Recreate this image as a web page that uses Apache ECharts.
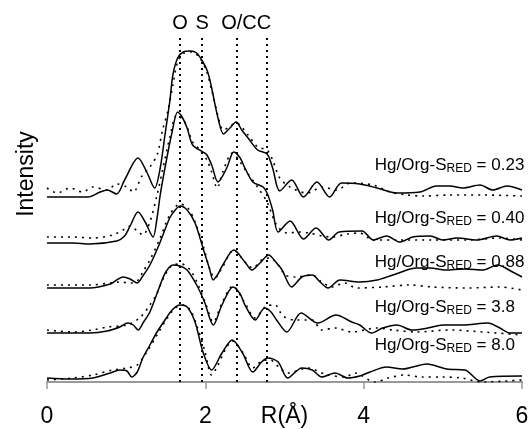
<!DOCTYPE html>
<html lang="en">
<head>
<meta charset="UTF-8">
<title>FT EXAFS</title>
<script src="https://cdn.jsdelivr.net/npm/echarts@6/dist/echarts.min.js"></script>
<style>
  html, body { margin: 0; padding: 0; background: #fff; }
  #chart { width: 531px; height: 429px; }
</style>
</head>
<body>
<div id="chart"></div>
<script>
// spectra, top to bottom; each pair is [R (Å), height above its own baseline]
var ratios = ['0.23', '0.40', '0.88', '3.8', '8.0'];
var baselines = [185, 139, 94, 49, 3];

var solid023 = [[0,0],[0.52,0],[0.67,5],[0.76,7],[0.88,3],[0.98,17],[1.15,39],[1.26,25],[1.36,9],[1.43,29],[1.49,62],[1.55,95],[1.59,122],[1.65,139],[1.72,145],[1.81,146],[1.89,144],[1.97,135],[2.03,125],[2.08,109],[2.16,79],[2.23,63],[2.31,69],[2.39,75],[2.46,67],[2.54,59],[2.66,47],[2.78,43],[2.85,29],[2.94,6],[3.09,17],[3.24,0],[3.41,15],[3.57,0],[3.72,14],[3.95,13],[4.17,9],[4.42,4],[4.71,5],[4.92,11],[5.09,11],[5.25,9],[5.47,12],[5.63,7],[5.81,11],[6,7]];
var dotted023 = [[0,9],[0.13,4],[0.29,9],[0.45,5],[0.58,10],[0.76,7],[0.88,13],[1.01,10],[1.09,5],[1.20,21],[1.30,30],[1.39,42],[1.46,67],[1.53,87],[1.59,112],[1.65,135],[1.73,144],[1.83,145],[1.92,140],[2.01,127],[2.08,107],[2.16,81],[2.23,67],[2.39,74],[2.54,62],[2.66,50],[2.78,47],[2.85,37],[2.94,19],[3.07,10],[3.28,4],[3.48,10],[3.66,7],[3.83,14],[4.12,12],[4.33,5],[4.55,2],[4.75,1],[5.09,2],[5.51,2],[6,1]];

var solid040 = [[0,0],[0.33,0],[0.54,-1],[0.88,2],[0.98,7],[1.05,17],[1.15,31],[1.24,21],[1.34,6],[1.39,25],[1.43,48],[1.49,75],[1.58,111],[1.65,131],[1.70,127],[1.77,115],[1.84,98],[1.97,91],[2.02,88],[2.08,78],[2.16,61],[2.27,75],[2.36,91],[2.44,85],[2.50,75],[2.60,61],[2.73,56],[2.79,48],[2.85,33],[2.92,11],[3.07,22],[3.24,4],[3.40,15],[3.56,3],[3.69,11],[3.98,12],[4.12,3],[4.29,7],[4.46,1],[4.62,6],[4.84,7],[5.00,3],[5.18,5],[5.43,3],[5.68,7],[5.85,3],[6,5]];
var dotted040 = [[0,6],[0.33,6],[0.58,5],[0.83,8],[0.96,13],[1.05,17],[1.14,12],[1.21,8],[1.30,21],[1.39,48],[1.46,73],[1.55,105],[1.64,128],[1.74,121],[1.84,101],[1.93,93],[2.02,83],[2.08,71],[2.15,55],[2.22,71],[2.34,90],[2.44,81],[2.53,70],[2.65,57],[2.78,41],[2.90,18],[3.03,10],[3.19,11],[3.32,10],[3.47,7],[3.61,6],[3.79,9],[3.95,10],[4.12,3],[4.46,3],[4.87,3],[5.30,3],[5.72,5],[6,3]];

var solid088 = [[0,0],[0.54,0],[0.80,4],[0.88,8],[0.96,11],[1.05,9],[1.14,5],[1.21,12],[1.30,23],[1.43,46],[1.55,70],[1.62,78],[1.68,82],[1.77,78],[1.87,65],[1.97,40],[2.05,20],[2.10,8],[2.16,14],[2.22,23],[2.36,38],[2.50,26],[2.59,18],[2.69,25],[2.80,33],[2.89,26],[2.97,18],[3.09,1],[3.22,11],[3.35,13],[3.45,6],[3.55,0],[3.70,8],[3.95,6],[4.17,8],[4.37,13],[4.67,20],[4.84,20],[5.03,18],[5.28,19],[5.51,18],[5.69,23],[5.88,16],[6,11]];
var dotted088 = [[0,3],[0.54,3],[0.80,5],[0.92,6],[1.05,5],[1.14,7],[1.21,16],[1.30,28],[1.43,50],[1.55,73],[1.68,84],[1.78,80],[1.87,66],[1.97,43],[2.06,18],[2.12,10],[2.21,20],[2.36,38],[2.50,26],[2.60,20],[2.71,28],[2.82,30],[2.92,23],[3.01,13],[3.13,11],[3.35,13],[3.47,6],[3.60,1],[3.76,5],[3.91,0],[4.24,1],[4.58,3],[4.87,1],[5.30,0],[5.72,1],[6,-2]];

var solid38 = [[0,0],[0.54,0],[0.76,2],[0.92,6],[1.02,10],[1.09,8],[1.15,3],[1.22,11],[1.30,21],[1.43,48],[1.50,61],[1.59,68],[1.68,67],[1.77,63],[1.89,48],[1.99,31],[2.10,8],[2.21,28],[2.35,46],[2.44,39],[2.50,28],[2.63,13],[2.75,25],[2.83,21],[2.90,13],[3.03,1],[3.21,20],[3.42,10],[3.65,18],[3.85,11],[3.95,8],[4.10,0],[4.24,5],[4.42,8],[4.61,3],[4.81,5],[5.00,8],[5.25,8],[5.57,10],[5.72,5],[5.85,0],[6,0]];
var dotted38 = [[0,3],[0.33,1],[0.58,3],[0.76,6],[1.01,8],[1.17,15],[1.30,28],[1.39,40],[1.49,58],[1.59,68],[1.70,69],[1.81,63],[1.91,48],[2.01,28],[2.10,11],[2.21,30],[2.35,47],[2.50,30],[2.63,15],[2.77,27],[2.88,28],[2.98,17],[3.13,13],[3.35,13],[3.47,3],[3.64,5],[3.85,1],[4.17,5],[4.37,3],[4.67,1],[5.09,3],[5.51,1],[6,-2]];

var solid80 = [[0,1],[0.29,0],[0.58,1],[0.80,6],[0.92,9],[1.01,8],[1.07,2],[1.14,7],[1.21,21],[1.30,34],[1.39,47],[1.49,59],[1.58,69],[1.68,74],[1.77,72],[1.87,57],[1.97,27],[2.08,9],[2.21,26],[2.34,39],[2.47,26],[2.60,7],[2.71,17],[2.79,21],[2.92,17],[3.04,1],[3.22,11],[3.35,9],[3.47,2],[3.64,6],[3.80,1],[3.95,3],[4.08,7],[4.29,12],[4.49,10],[4.80,15],[5.05,10],[5.28,9],[5.47,-2],[5.59,2],[6,3]];
var dotted80 = [[0,-1],[0.33,1],[0.58,4],[0.83,9],[1.01,11],[1.14,14],[1.26,27],[1.39,44],[1.52,61],[1.62,71],[1.72,74],[1.81,69],[1.89,54],[1.99,29],[2.08,4],[2.16,14],[2.25,29],[2.34,38],[2.47,27],[2.60,11],[2.71,18],[2.82,19],[2.94,11],[3.04,6],[3.30,11],[3.51,5],[3.76,2],[3.89,6],[4.14,-3],[4.31,1],[4.52,4],[4.73,2],[4.99,2],[5.24,1],[5.49,-3],[6,-1]];

var solidSets = [solid023, solid040, solid088, solid38, solid80];
var dottedSets = [dotted023, dotted040, dotted088, dotted38, dotted80];

// reference shells
var shellNames = ['O', 'S', 'O/C', 'C'];
var shellR = [1.68, 1.96, 2.40, 2.78];

var xTicks = [0, 2, 4, 6];

var FONT = 'Liberation Sans, Arial, Helvetica, sans-serif';
var labelGap = [32, 25, 26, 26, 34];
var shellLabelShift = [0, 0, 2, -3];

function shift(pts, base) {
    return pts.map(function (p) { return [p[0], p[1] + base]; });
}

var series = [];
for (var i = 0; i < ratios.length; i++) {
    series.push({
        type: 'line',
        data: shift(dottedSets[i], baselines[i]),
        showSymbol: false,
        smooth: 0.3,
        lineStyle: { color: '#000', width: 1.6, type: [2, 5] },
        z: 2
    });
    series.push({
        type: 'line',
        data: shift(solidSets[i], baselines[i]),
        showSymbol: false,
        smooth: 0.3,
        lineStyle: { color: '#000', width: 1.5 },
        z: 3,
        markPoint: {
            symbol: 'circle',
            symbolSize: 0,
            silent: true,
            label: {
                show: true,
                position: 'right',
                distance: 0,
                color: '#000',
                fontFamily: FONT,
                formatter: '{m|Hg/Org-S}{s|RED}{m| = ' + ratios[i] + '}',
                rich: {
                    m: { fontSize: 17, lineHeight: 20, fontFamily: FONT, color: '#000' },
                    s: { fontSize: 12, lineHeight: 12, verticalAlign: 'bottom', fontFamily: FONT, color: '#000' }
                }
            },
            data: [{ coord: [4.14, baselines[i] + labelGap[i]] }]
        }
    });
}

// shell positions as dotted vertical lines
series.push({
    type: 'line',
    data: [],
    markLine: {
        silent: true,
        symbol: 'none',
        lineStyle: { color: '#000', width: 2, type: [2, 4] },
        data: shellR.map(function (r, k) {
            return {
                name: shellNames[k],
                xAxis: r,
                label: {
                    show: true,
                    position: 'end',
                    distance: 5,
                    offset: [shellLabelShift[k], 0],
                    formatter: '{b}',
                    color: '#000',
                    fontSize: 20,
                    fontFamily: FONT
                }
            };
        })
    }
});

var chart = echarts.init(document.getElementById('chart'));
chart.setOption({
    animation: false,
    backgroundColor: '#fff',
    grid: { left: 47, right: 9, top: 38, bottom: 47, outerBoundsMode: 'none', containLabel: false },
    xAxis: {
        type: 'value',
        min: xTicks[0],
        max: xTicks[xTicks.length - 1],
        interval: 2,
        name: 'R(Å)',
        nameLocation: 'middle',
        nameGap: 23,
        nameMoveOverlap: false,
        nameTextStyle: { fontSize: 23, color: '#000', fontFamily: FONT, verticalAlign: 'top' },
        axisLine: { lineStyle: { color: '#999', width: 2 } },
        axisTick: { length: 7, lineStyle: { color: '#999', width: 1.5 } },
        axisLabel: { fontSize: 23, color: '#000', fontFamily: FONT, margin: 23 },
        splitLine: { show: false }
    },
    yAxis: {
        type: 'value',
        min: 0,
        max: 344,
        show: false
    },
    graphic: [{
        type: 'text',
        x: 27,
        y: 174,
        rotation: Math.PI / 2,
        style: {
            text: 'Intensity',
            fontSize: 23,
            fontFamily: FONT,
            fill: '#000',
            align: 'center',
            verticalAlign: 'middle'
        }
    }],
    series: series
});
</script>
</body>
</html>
